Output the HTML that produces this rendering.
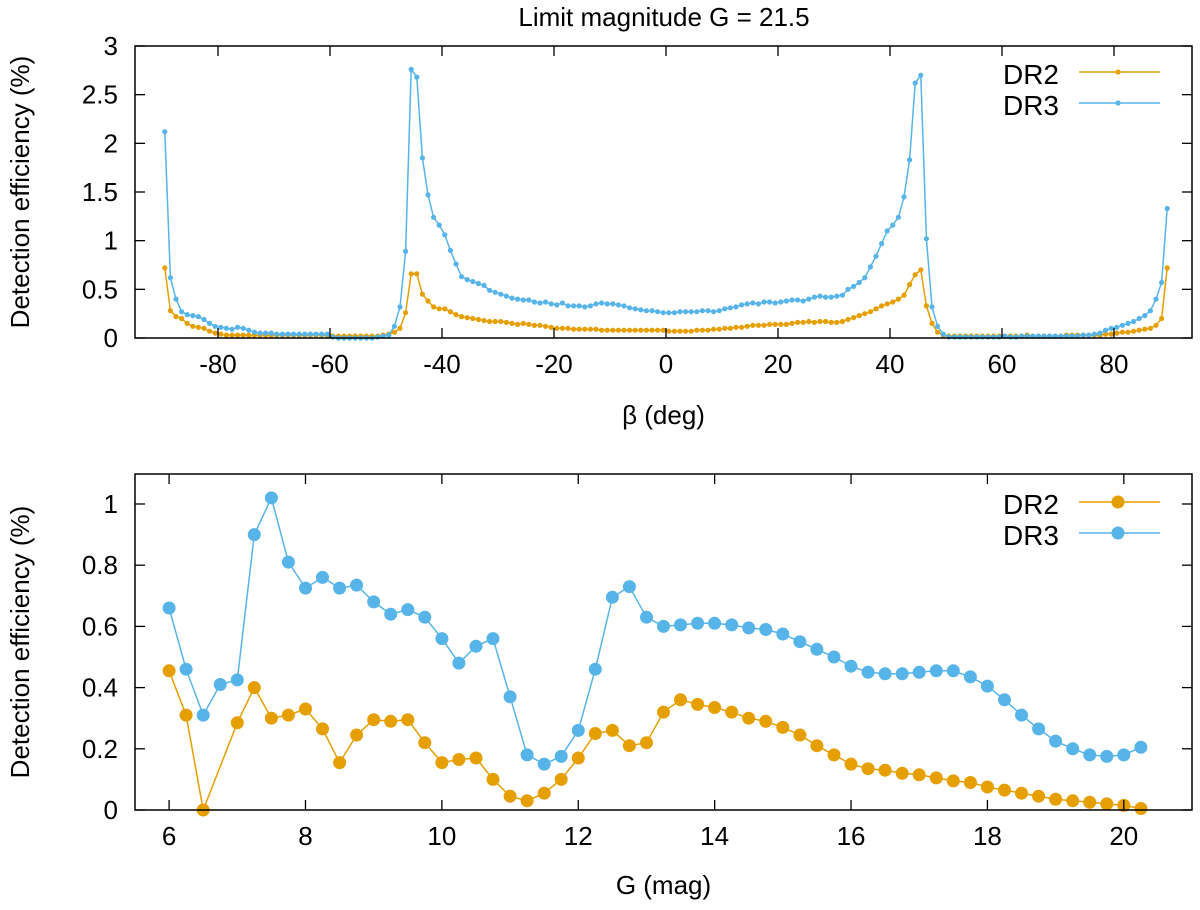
<!DOCTYPE html>
<html><head><meta charset="utf-8"><style>
html,body{margin:0;padding:0;background:#fff;}
svg{display:block;font-family:"Liberation Sans",sans-serif;}
</style></head><body>
<svg id="chart" width="1200" height="910" viewBox="0 0 1200 910">
<text x="664" y="26" font-size="26" text-anchor="middle">Limit magnitude G = 21.5</text>
<g id="top"></g>
<g id="bot"></g>
</svg>
<script>
// ---- Top panel data (beta = -89.5 .. 89.5 step 1) ----
const topDR3Neg = [2.12,0.62,0.40,0.27,0.24,0.23,0.22,0.19,0.15,0.12,0.11,0.10,0.09,0.11,0.10,0.08,0.06,0.05,0.05,0.05,0.04,
0.04,0.04,0.04,0.04,0.04,0.04,0.04,0.04,0.04,
0.01,0.0,0.0,0.0,0.0,0.0,0.0,0.0,0.01,
0.02,0.03,
0.12,0.32,0.89,2.76,2.68,1.85,1.47,1.24,1.16,1.06,0.90,0.76,0.63,0.60,0.58,0.56,0.54,0.49,0.47,0.45,0.43,0.41,0.40,0.39,0.39,0.37,0.36,0.37,0.35,0.34,0.36,0.33,0.33,0.33,0.32,0.33,0.35,0.36,0.35,0.35,0.34,0.33,0.31,0.30,0.29,0.28,0.28,0.27,0.26];
const topDR3Pos = [0.26,0.26,0.27,0.27,0.27,0.27,0.28,0.28,0.27,0.28,0.30,0.31,0.32,0.34,0.35,0.36,0.35,0.37,0.37,0.36,0.37,0.38,0.39,0.39,0.38,0.40,0.42,0.43,0.42,0.42,0.43,0.44,0.50,0.53,0.57,0.62,0.73,0.84,0.97,1.10,1.16,1.24,1.45,1.83,2.62,2.70,1.02,0.32,0.12,0.04,0.01,
0.01,0.01,0.01,0.01,0.01,0.01,0.01,0.01,0.01,0.02,0.01,0.01,0.02,0.02,0.02,
0.02,0.02,0.02,0.02,0.02,0.02,0.02,0.02,0.03,0.03,
0.04,0.05,0.08,0.10,0.11,0.13,0.15,0.17,0.20,0.23,0.28,0.40,0.57,1.33];
const topDR2Neg = [0.72,0.28,0.22,0.20,0.15,0.12,0.11,0.10,0.07,0.05,0.04,0.03,0.03,0.03,0.03,
0.03,0.03,0.03,0.03,0.03,0.03,0.03,0.03,0.03,0.03,0.03,0.03,0.03,0.03,0.03,0.02,0.02,0.02,0.02,0.02,0.02,0.02,0.02,0.02,
0.03,0.04,0.06,0.10,0.26,0.66,0.66,0.45,0.38,0.32,0.30,0.30,0.27,0.24,0.22,0.21,0.20,0.19,0.18,0.17,0.17,0.17,0.16,0.15,0.14,0.15,0.14,0.13,0.13,0.12,0.11,0.10,0.10,0.10,0.09,0.09,0.09,
0.09,0.09,0.08,0.08,0.08,0.08,0.08,0.08,0.08,0.08,0.08,0.08,0.08,0.08];
const topDR2Pos = [0.07,0.07,0.07,0.07,0.07,0.08,0.08,0.08,0.09,0.09,
0.10,0.10,0.11,0.11,0.12,0.13,0.13,0.13,0.14,0.14,0.14,0.14,0.15,0.16,0.16,0.17,
0.16,0.17,0.17,0.16,0.16,0.17,0.19,0.21,0.23,0.25,
0.27,0.30,0.33,0.35,0.37,0.40,0.44,0.55,0.65,0.70,0.33,0.15,0.06,0.03,0.02,
0.02,0.02,0.02,0.02,0.02,0.02,0.02,0.02,0.02,0.02,0.02,0.02,0.02,0.03,0.02,0.02,0.02,0.02,0.02,0.02,0.03,0.03,0.03,0.03,0.03,
0.03,0.03,0.04,0.04,0.05,0.06,0.06,0.07,0.08,0.09,0.10,0.13,0.20,0.72];
const topXTicks = [-80,-60,-40,-20,0,20,40,60,80];
const topYTicks = [0,0.5,1,1.5,2,2.5,3];
const topYLabels = ["0","0.5","1","1.5","2","2.5","3"];

// ---- Bottom panel data (G = 6 .. 20.25 step 0.25) ----
const botG = [];
for (let g = 6; g <= 20.25001; g += 0.25) botG.push(Math.round(g*100)/100);
const botDR3 = [0.66,0.46,0.31,0.41,0.425,0.90,1.02,0.81,0.725,0.76,0.725,0.735,0.68,0.64,0.655,0.63,0.56,0.48,0.535,0.56,0.37,0.18,0.15,0.175,0.26,0.46,0.695,0.73,0.63,0.60,0.605,0.61,0.61,0.605,0.595,0.59,0.575,0.55,0.525,0.50,0.47,0.45,0.445,0.445,0.45,0.455,0.455,0.435,0.405,0.36,0.31,0.265,0.225,0.20,0.18,0.175,0.18,0.205];
const botDR2 = [0.455,0.31,0.0,null,0.285,0.40,0.30,0.31,0.33,0.265,0.155,0.245,0.295,0.29,0.295,0.22,0.155,0.165,0.17,0.10,0.045,0.03,0.055,0.10,0.17,0.25,0.26,0.21,0.22,0.32,0.36,0.345,0.335,0.32,0.30,0.29,0.27,0.245,0.21,0.18,0.15,0.135,0.13,0.12,0.115,0.105,0.095,0.09,0.075,0.065,0.055,0.045,0.035,0.03,0.025,0.02,0.015,0.005];
const botXTicks = [6,8,10,12,14,16,18,20];
const botYTicks = [0,0.2,0.4,0.6,0.8,1];
const botYLabels = ["0","0.2","0.4","0.6","0.8","1"];

const NS = "http://www.w3.org/2000/svg";
const ORANGE = "#e69f00", BLUE = "#56b4e9";
function mk(parent, tag, attrs){ const e=document.createElementNS(NS,tag); for(const k in attrs) e.setAttribute(k,attrs[k]); parent.appendChild(e); return e; }

function panel(g, cfg){
  const {L,R,T,B,xmin,xmax,ymin,ymax} = cfg;
  const X = v => L + (v-xmin)/(xmax-xmin)*(R-L);
  const Y = v => B - (v-ymin)/(ymax-ymin)*(B-T);
  cfg.series.forEach(s=>{
    let d="", pen=false;
    s.xs.forEach((x,i)=>{ const v=s.ys[i]; if(v===null||v===undefined){return;} d += (pen?"L":"M")+X(x).toFixed(1)+","+Y(v).toFixed(1); pen=true; });
    const p = mk(g,"path",{d:d,fill:"none",stroke:s.color,"stroke-width":cfg.lw});
    
    
    s.xs.forEach((x,i)=>{ const v=s.ys[i]; if(v===null) return;
      const c = mk(g,"circle",{cx:X(x).toFixed(1),cy:Y(v).toFixed(1),r:cfg.mr,fill:s.color});
      
      
    });
  });
  const f = mk(g,"rect",{x:L,y:T,width:R-L,height:B-T,fill:"none",stroke:"#000","stroke-width":1.5});
  
  
  cfg.xt.forEach(t=>{
    const x=X(t);
    mk(g,"line",{x1:x,y1:B,x2:x,y2:B-10,stroke:"#000","stroke-width":1.3});
    mk(g,"line",{x1:x,y1:T,x2:x,y2:T+10,stroke:"#000","stroke-width":1.3});
    const tx = mk(g,"text",{x:x,y:B+35,"font-size":26,"text-anchor":"middle"});
    tx.textContent = String(t);
    
    
  });
  cfg.yt.forEach((t,i)=>{
    const y=Y(t);
    mk(g,"line",{x1:L,y1:y,x2:L+10,y2:y,stroke:"#000","stroke-width":1.3});
    mk(g,"line",{x1:R,y1:y,x2:R-10,y2:y,stroke:"#000","stroke-width":1.3});
    const tx = mk(g,"text",{x:L-17,y:y+9,"font-size":26,"text-anchor":"end"});
    tx.textContent = cfg.yl[i];
    
    
  });
  const xl = mk(g,"text",{x:(L+R)/2,y:cfg.xlabY,"font-size":26,"text-anchor":"middle"});
  xl.textContent = cfg.xlab;
  
  
  const yc=(T+B)/2;
  const yl = mk(g,"text",{x:0,y:0,"font-size":26,"text-anchor":"middle",transform:"translate(29,"+yc+") rotate(-90)"});
  yl.textContent = "Detection efficiency (%)";
  
  
  cfg.series.forEach((s,i)=>{
    const ly = cfg.legY[i];
    const t = mk(g,"text",{x:1059,y:ly+12,"font-size":28,"text-anchor":"end"});
    t.textContent = s.label;
    
    
    const ln = mk(g,"line",{x1:1079,y1:ly,x2:1160,y2:ly,stroke:s.color,"stroke-width":cfg.lw});
    
    
    mk(g,"circle",{cx:1118,cy:ly,r:cfg.mr,fill:s.color});
  });
}

const betas = [];
for (let i=0;i<180;i++) betas.push(-89.5+i);
panel(document.getElementById("top"), {
  L:135,R:1192,T:46,B:338,xmin:-94.82,xmax:93.93,ymin:0,ymax:3,lw:1.5,mr:2.6,
  xt:topXTicks, yt:topYTicks, yl:topYLabels, xlab:"β (deg)", xlabY:424,
  legY:[72,103],
  series:[
    {name:"dr2",label:"DR2",color:ORANGE,xs:betas,ys:topDR2Neg.concat(topDR2Pos)},
    {name:"dr3",label:"DR3",color:BLUE,xs:betas,ys:topDR3Neg.concat(topDR3Pos)}
  ]
});
panel(document.getElementById("bot"), {
  L:135,R:1192,T:474,B:810,xmin:5.5,xmax:21,ymin:0,ymax:1.098,lw:1.5,mr:6.5,
  xt:botXTicks, yt:botYTicks, yl:botYLabels, xlab:"G (mag)", xlabY:894,
  legY:[502,533],
  series:[
    {name:"dr2",label:"DR2",color:ORANGE,xs:botG,ys:botDR2},
    {name:"dr3",label:"DR3",color:BLUE,xs:botG,ys:botDR3}
  ]
});
</script>
</body></html>
